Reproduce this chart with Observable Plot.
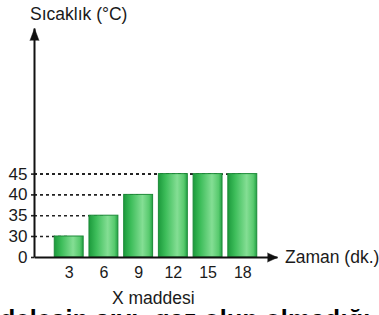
<!DOCTYPE html>
<html><head><meta charset="utf-8">
<script src="https://cdn.jsdelivr.net/npm/d3@7"></script>
<script src="https://cdn.jsdelivr.net/npm/@observablehq/plot@0.6"></script>
<style>
body{margin:0;background:#fff;font-family:"Liberation Sans",Arial,sans-serif;}
#wrap{position:relative;width:379px;height:315px;overflow:hidden;background:#fff;}
#chart{position:absolute;left:0;top:0;}
.t{position:absolute;white-space:nowrap;color:#1a1a1a;line-height:1;}
</style></head><body>
<div id="wrap">
<div id="chart"></div>
<div class="t" style="left:30px;top:6px;font-size:17.5px;">Sıcaklık (°C)</div>
<div class="t" style="left:285px;top:249px;font-size:17.5px;">Zaman (dk.)</div>
<div class="t" style="left:0px;top:307px;font-size:25px;letter-spacing:0.3px;font-weight:bold;color:#000;">delesin sıvı; gaz olup olmadığı</div>
<div class="t" style="left:112px;top:290px;font-size:17.5px;">X maddesi</div>
</div>
<script>
const times = [3, 6, 9, 12, 15, 18];
const temps = [30, 35, 40, 45, 45, 45];
const xTicks = [3, 6, 9, 12, 15, 18];
const yTicks = [0, 30, 35, 40, 45];
const xEnd = 21;
const yEnd = 80;

const data = times.map((t, i) => ({t, v: temps[i]}));

const defs = () => {
  const d = d3.create("svg:defs");
  const g = d.append("linearGradient").attr("id", "barGrad").attr("x1", 0).attr("x2", 1).attr("y1", 0).attr("y2", 0);
  [[0, "#1c9a3c"], [0.25, "#3dbd5a"], [0.65, "#84de94"], [0.88, "#58ca6e"], [1, "#22a244"]]
    .forEach(([o, c]) => g.append("stop").attr("offset", o).attr("stop-color", c));
  return d.node();
};

const chart = Plot.plot({
  width: 379, height: 285,
  marginLeft: 34, marginRight: 102, marginTop: 28, marginBottom: 28,
  x: {type: "linear", domain: [0, xEnd]},
  y: {type: "linear", domain: [0, 30, yEnd], range: [257, 236, 28]},
  style: {fontFamily: "Liberation Sans, Arial, sans-serif", background: "white", color: "#1a1a1a"},
  marks: [
    defs,
    Plot.ruleY(data, {y: "v", x1: 0, x2: "t", stroke: "#222", strokeWidth: 1.6, strokeDasharray: "3,3"}),
    Plot.rectY(data, {x1: d => d.t - 1.25, x2: d => d.t + 1.25, y1: 0, y2: "v", fill: "url(#barGrad)", stroke: "#1d8a38", strokeWidth: 1}),
    Plot.axisY({ticks: yTicks, tickSize: 3, tickPadding: 4, tickFormat: d => String(d), fontSize: 17, label: null, stroke: "#222", strokeWidth: 1.6}),
    Plot.axisX({ticks: xTicks, tickSize: 0, tickPadding: 9, tickFormat: d => String(d), fontSize: 16, label: null}),
    Plot.link([0], {x1: 0, y1: 0, x2: 0, y2: yEnd, stroke: "#111", strokeWidth: 2}),
    Plot.link([0], {x1: 0, y1: 0, x2: xEnd, y2: 0, stroke: "#111", strokeWidth: 2}),
    Plot.vector([0], {x: 0, y: yEnd, length: 12, r: 4.5, rotate: 0, shape: "spike", anchor: "end", fill: "#111", stroke: "#111", strokeWidth: 0.5}),
    Plot.vector([0], {x: xEnd, y: 0, length: 10, r: 4.5, rotate: 90, shape: "spike", anchor: "end", fill: "#111", stroke: "#111", strokeWidth: 0.5})
  ]
});
document.getElementById("chart").appendChild(chart);
</script>
</body></html>
